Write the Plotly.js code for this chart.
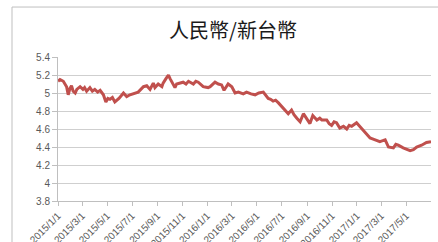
<!DOCTYPE html>
<html>
<head>
<meta charset="utf-8">
<script src="https://cdn.plot.ly/plotly-3.0.1.min.js"></script>
<style>html,body{margin:0;padding:0;background:#fff;}#chart{width:438px;height:242px;}</style>
</head>
<body>
<div id="chart"></div>
<script>
const dates = [
"2015-01-01","2015-01-06","2015-01-14","2015-01-22","2015-01-26","2015-01-30","2015-02-03","2015-02-07","2015-02-12","2015-02-16","2015-02-24","2015-03-03","2015-03-07",
"2015-03-12","2015-03-20","2015-03-26","2015-04-01","2015-04-08","2015-04-14","2015-04-22","2015-04-28","2015-05-03","2015-05-08","2015-05-14","2015-05-20","2015-05-30","2015-06-10",
"2015-06-18","2015-06-26","2015-07-04","2015-07-16","2015-07-29","2015-08-06","2015-08-14","2015-08-22","2015-08-26","2015-09-03",
"2015-09-12","2015-09-15","2015-09-22","2015-09-28","2015-10-02","2015-10-06","2015-10-14","2015-10-18","2015-10-26","2015-11-03","2015-11-10","2015-11-16",
"2015-11-28","2015-12-04","2015-12-10","2015-12-22","2016-01-03","2016-01-08","2016-01-20","2016-01-28","2016-02-05","2016-02-11","2016-02-21",
"2016-03-01","2016-03-09","2016-03-17","2016-03-29","2016-04-06","2016-04-17","2016-04-27","2016-05-06","2016-05-17","2016-05-29",
"2016-06-04","2016-06-10","2016-06-16","2016-06-23","2016-07-01","2016-07-09","2016-07-17","2016-07-25","2016-07-31","2016-08-07","2016-08-15","2016-08-23",
"2016-08-31","2016-09-08","2016-09-15","2016-09-25","2016-10-02","2016-10-07","2016-10-19","2016-10-25","2016-10-31","2016-11-06","2016-11-12","2016-11-20","2016-11-29",
"2016-12-07","2016-12-13","2016-12-19","2016-12-31","2017-01-06","2017-01-13","2017-01-21","2017-01-27","2017-02-02","2017-02-08","2017-02-14","2017-02-26","2017-03-05","2017-03-11",
"2017-03-19","2017-03-31","2017-04-06","2017-04-12","2017-04-24","2017-05-03","2017-05-11","2017-05-19","2017-05-27","2017-06-08","2017-06-20",
"2017-07-01"
];
const rates = [
5.13,5.15,5.13,5.07,4.98,5.05,5.08,5.02,5.00,5.04,5.07,5.04,5.06,
5.02,5.06,5.02,5.04,5.01,5.03,4.98,4.90,4.94,4.93,4.95,4.90,4.94,5.00,
4.96,4.98,4.99,5.01,5.07,5.08,5.04,5.11,5.06,5.10,
5.07,5.11,5.16,5.20,5.16,5.13,5.06,5.10,5.11,5.12,5.10,5.13,
5.10,5.13,5.12,5.07,5.06,5.07,5.12,5.10,5.09,5.03,5.10,
5.07,5.00,5.01,4.99,5.01,4.99,4.98,5.00,5.01,4.94,
4.93,4.91,4.92,4.89,4.85,4.82,4.77,4.81,4.76,4.72,4.68,4.77,
4.72,4.66,4.75,4.70,4.72,4.70,4.70,4.66,4.64,4.68,4.67,4.61,4.63,
4.60,4.64,4.63,4.67,4.64,4.61,4.57,4.53,4.50,4.49,4.48,4.46,4.47,4.48,
4.40,4.39,4.43,4.42,4.39,4.37,4.36,4.37,4.40,4.42,4.45,
4.46
];
const tickDates = ["2015-01-01","2015-03-01","2015-05-01","2015-07-01","2015-09-01","2015-11-01","2016-01-01","2016-03-01","2016-05-01","2016-07-01","2016-09-01","2016-11-01","2017-01-01","2017-03-01","2017-05-01"];
const tickLabels = ["2015/1/1","2015/3/1","2015/5/1","2015/7/1","2015/9/1","2015/11/1","2016/1/1","2016/3/1","2016/5/1","2016/7/1","2016/9/1","2016/11/1","2017/1/1","2017/3/1","2017/5/1"];
const yTicks = [3.8,4,4.2,4.4,4.6,4.8,5,5.2,5.4];
const yLabels = ["3.8","4","4.2","4.4","4.6","4.8","5","5.2","5.4"];
const chartTitle = "人民幣/新台幣";

const trace = {
  x: dates, y: rates, type: "scatter", mode: "lines",
  line: {color: "#C0504D", width: 3},
  hoverinfo: "skip"
};
const layout = {
  width: 438, height: 242,
  margin: {l: 58, r: 7, t: 57, b: 41},
  paper_bgcolor: "#fff", plot_bgcolor: "#fff",
  showlegend: false,
  font: {family: "Liberation Sans, DejaVu Sans, sans-serif", color: "#595959", size: 10},
  title: {
    text: chartTitle, xref: "container", yref: "container",
    x: 0.532, y: 0.872, xanchor: "center", yanchor: "middle",
    font: {family: "Noto Sans CJK TC, Noto Sans CJK SC, sans-serif", size: 20, color: "#1a1a1a"}
  },
  xaxis: {
    type: "date", range: ["2015-01-01", "2017-07-01"],
    tickmode: "array", tickvals: tickDates, ticktext: tickLabels,
    tickangle: -45, ticks: "outside", ticklen: 4, tickcolor: "#BFBFBF",
    showgrid: false, showline: true, linecolor: "#BFBFBF", linewidth: 1,
    zeroline: false, tickfont: {size: 10, color: "#595959"}
  },
  yaxis: {
    range: [3.8, 5.4], tickmode: "array", tickvals: yTicks, ticktext: yLabels,
    ticks: "outside", ticklen: 5, tickcolor: "#BFBFBF",
    showgrid: true, gridcolor: "#CFCFCF", gridwidth: 1,
    showline: true, linecolor: "#BFBFBF", linewidth: 1,
    zeroline: false, tickfont: {size: 10, color: "#595959"}
  },
  shapes: [{
    type: "rect", xref: "paper", yref: "paper",
    x0: -0.1233, x1: 1.2, y0: -0.6, y1: 1.347,
    line: {color: "#BFBFBF", width: 1}, fillcolor: "rgba(0,0,0,0)", layer: "below"
  }]
};
Plotly.newPlot("chart", [trace], layout, {staticPlot: true, displayModeBar: false});
</script>
</body>
</html>
